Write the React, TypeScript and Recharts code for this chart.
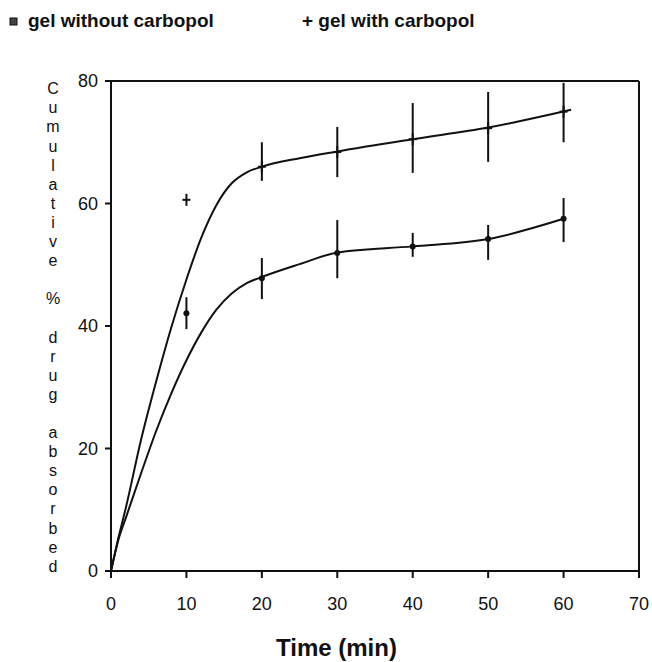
import React from "react"
import { ComposedChart, Line, Scatter, ErrorBar, XAxis, YAxis, ReferenceLine } from "recharts"

// measured points (min, %), with error bar ends
const timePoints = [10, 20, 30, 40, 50, 60]
const withCarbopol = [60.6, 66, 68.4, 70.5, 72.3, 75]
const withCarbopolLow = [60.6, 63.7, 64.3, 65, 66.8, 70]
const withCarbopolHigh = [60.6, 70, 72.5, 76.4, 78.2, 79.7]
const withoutCarbopol = [42.1, 47.8, 51.9, 53, 54.2, 57.5]
const withoutCarbopolLow = [39.5, 44.4, 47.8, 51.3, 50.8, 53.7]
const withoutCarbopolHigh = [44.7, 51.1, 57.3, 55.2, 56.5, 60.9]

// fitted curves
const upperCurveX = [0, 1, 2, 4, 6, 8, 10, 12, 14, 16, 18, 20, 25, 30, 40, 50, 61]
const upperCurveY = [0, 5.5, 10.5, 21.5, 31, 39.8, 47.6, 54.5, 59.8, 63.3, 65.1, 66, 67.4, 68.5, 70.5, 72.4, 75.3]
const lowerCurveX = [0, 1, 2, 4, 6, 8, 10, 12, 14, 16, 18, 20, 25, 30, 40, 50, 60]
const lowerCurveY = [0, 5.2, 8.8, 16, 22.9, 29, 34.4, 39, 42.7, 45.3, 47, 48, 50.1, 52, 53, 54.2, 57.5]

const xTicks = [0, 10, 20, 30, 40, 50, 60, 70]
const yTicks = [0, 20, 40, 60, 80]
const yLabelLines = "Cumulative % drug absorbed".split("")

const FONT = "'Liberation Sans', Arial, Helvetica, sans-serif"

const toPoints = (xs: number[], ys: number[], lows: number[], highs: number[]) =>
  xs.map((x, i) => ({ x, y: ys[i], err: [ys[i] - lows[i], highs[i] - ys[i]] }))

const toCurve = (xs: number[], ys: number[]) => xs.map((x, i) => ({ x, y: ys[i] }))

const carbopolData = toPoints(timePoints, withCarbopol, withCarbopolLow, withCarbopolHigh)
const noCarbopolData = toPoints(timePoints, withoutCarbopol, withoutCarbopolLow, withoutCarbopolHigh)
const upperCurve = toCurve(upperCurveX, upperCurveY)
const lowerCurve = toCurve(lowerCurveX, lowerCurveY)

const PlusMark = (props: any) => {
  const { cx, cy } = props
  return (
    <g stroke="#111" strokeWidth={2}>
      <line x1={cx - 4} y1={cy} x2={cx + 4} y2={cy} />
      <line x1={cx} y1={cy - 6} x2={cx} y2={cy + 6} />
    </g>
  )
}

const DotMark = (props: any) => {
  const { cx, cy } = props
  return <circle cx={cx} cy={cy} r={3} fill="#111" />
}

export default function App() {
  return (
    <div style={{ position: "absolute", left: 0, top: 0, width: 652, height: 662, background: "#fff", fontFamily: FONT }}>
      <ComposedChart
        width={652}
        height={662}
        margin={{ top: 81, right: 13, bottom: 61, left: 51 }}
      >
        <XAxis
          type="number"
          dataKey="x"
          domain={[0, 70]}
          ticks={xTicks}
          allowDataOverflow
          height={30}
          stroke="#111"
          strokeWidth={2}
          tickSize={7}
          tickMargin={19}
          tick={{ fontSize: 18, fill: "#111", fontFamily: FONT }}
        />
        <YAxis
          type="number"
          domain={[0, 80]}
          ticks={yTicks}
          width={60}
          stroke="#111"
          strokeWidth={2}
          tickSize={6}
          tickMargin={7}
          tick={{ fontSize: 18, fill: "#111", fontFamily: FONT }}
        />
        <ReferenceLine y={80} stroke="#111" strokeWidth={2} />
        <ReferenceLine x={70} stroke="#111" strokeWidth={2} />
        <Line
          data={upperCurve}
          dataKey="y"
          type="monotone"
          stroke="#111"
          strokeWidth={2}
          dot={false}
          activeDot={false}
          isAnimationActive={false}
        />
        <Line
          data={lowerCurve}
          dataKey="y"
          type="monotone"
          stroke="#111"
          strokeWidth={2}
          dot={false}
          activeDot={false}
          isAnimationActive={false}
        />
        <Scatter data={carbopolData} dataKey="y" shape={<PlusMark />} isAnimationActive={false}>
          <ErrorBar dataKey="err" direction="y" width={0} stroke="#111" strokeWidth={2} isAnimationActive={false} />
        </Scatter>
        <Scatter data={noCarbopolData} dataKey="y" shape={<DotMark />} isAnimationActive={false}>
          <ErrorBar dataKey="err" direction="y" width={0} stroke="#111" strokeWidth={2} isAnimationActive={false} />
        </Scatter>
      </ComposedChart>

      {/* legend, stacked y label and x title */}
      <svg width={652} height={662} style={{ position: "absolute", left: 0, top: 0, pointerEvents: "none" }}>
        <rect x={10} y={18} width={7} height={7} fill="#444" stroke="#111" strokeWidth={1} />
        <text x={28} y={27} fontSize={19} fontWeight="bold" fill="#111" fontFamily={FONT}>
          gel without carbopol
        </text>
        <text x={302} y={27} fontSize={19} fontWeight="bold" fill="#111" fontFamily={FONT}>
          + gel with carbopol
        </text>
        {yLabelLines.map((ch, i) => (
          <text key={i} x={53} y={94.2 + i * 19.1} fontSize={16} fill="#111" textAnchor="middle" fontFamily={FONT}>
            {ch.trim()}
          </text>
        ))}
        <text x={276} y={656} fontSize={24} fontWeight="bold" fill="#111" fontFamily={FONT}>
          Time (min)
        </text>
      </svg>
    </div>
  )
}
